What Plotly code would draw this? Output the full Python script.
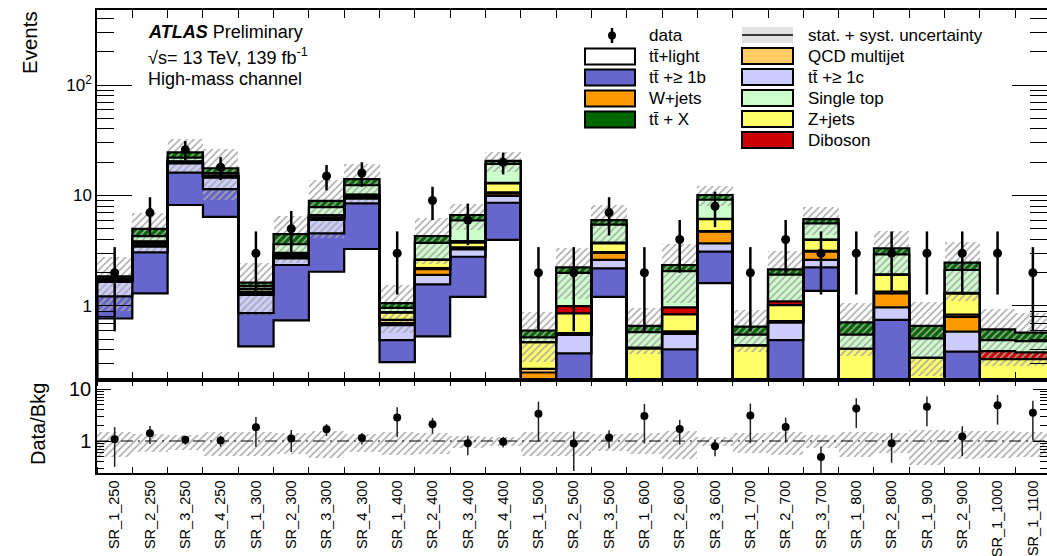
import numpy as np
import plotly.graph_objects as go

regions = ["SR_1_250", "SR_2_250", "SR_3_250", "SR_4_250",
           "SR_1_300", "SR_2_300", "SR_3_300", "SR_4_300",
           "SR_1_400", "SR_2_400", "SR_3_400", "SR_4_400",
           "SR_1_500", "SR_2_500", "SR_3_500",
           "SR_1_600", "SR_2_600", "SR_3_600",
           "SR_1_700", "SR_2_700", "SR_3_700",
           "SR_1_800", "SR_2_800", "SR_1_900", "SR_2_900",
           "SR_1_1000", "SR_1_1100"]

# stacked backgrounds, bottom -> top
tt_light = [0.77, 1.30, 8.2, 6.4, 0.43, 0.74, 2.04, 3.28, 0.31, 0.53, 1.21, 3.96, 0.0, 0.0, 1.21,
            0.0, 0.0, 1.61, 0.0, 0.0, 1.37, 0.0, 0.0, 0.0, 0.0, 0.0, 0.0]
tt_b = [0.45, 1.76, 7.9, 5.0, 0.43, 1.61, 2.5, 5.2, 0.18, 1.04, 1.58, 4.64, 0.0, 0.373, 0.98,
        0.0, 0.405, 1.49, 0.0, 0.49, 0.87, 0.0, 0.75, 0.0, 0.386, 0.0, 0.0]
tt_c = [0.43, 0.38, 3.4, 3.1, 0.40, 0.35, 1.46, 0.9, 0.18, 0.34, 0.47, 1.3, 0.0, 0.174, 0.42,
        0.0, 0.155, 0.59, 0.0, 0.22, 0.37, 0.0, 0.22, 0.0, 0.20, 0.0, 0.0]
w_jets = [0.02, 0.10, 0.2, 0.15, 0.04, 0.08, 0.15, 0.2, 0.03, 0.24, 0.05, 0.5, 0.25, 0.0, 0.42,
          0.0, 0.01, 1.01, 0.0, 0.0, 0.49, 0.0, 0.33, 0.0, 0.21, 0.0, 0.0]
qcd = [0.02, 0.12, 0.3, 0.2, 0.04, 0.10, 0.2, 0.25, 0.05, 0.05, 0.08, 0.3, 0.02, 0.02, 0.05,
       0.01, 0.02, 0.05, 0.01, 0.02, 0.05, 0.01, 0.05, 0.01, 0.04, 0.01, 0.01]
z_jets = [0.03, 0.15, 0.3, 0.25, 0.08, 0.12, 0.25, 0.3, 0.12, 0.41, 0.35, 2.2, 0.2, 0.29, 0.61,
          0.40, 0.25, 1.35, 0.43, 0.29, 0.81, 0.40, 0.56, 0.33, 0.46, 0.32, 0.32]
diboson = [0.01, 0.03, 0.1, 0.05, 0.01, 0.02, 0.05, 0.05, 0.01, 0.02, 0.12, 0.1, 0.0, 0.14, 0.05,
           0.01, 0.13, 0.05, 0.0, 0.08, 0.03, 0.0, 0.02, 0.0, 0.02, 0.06, 0.05]
single_top = [0.05, 0.45, 1.6, 0.8, 0.08, 0.6, 1.2, 2.2, 0.08, 1.1, 2.1, 6.3, 0.05, 1.0, 1.7,
              0.16, 1.1, 3.0, 0.11, 0.82, 1.6, 0.14, 1.0, 0.17, 0.8, 0.10, 0.10]
tt_x = [0.07, 0.70, 2.6, 1.7, 0.12, 0.85, 1.1, 1.7, 0.10, 0.57, 0.7, 1.3, 0.08, 0.24, 0.55,
        0.08, 0.28, 0.95, 0.10, 0.22, 0.51, 0.16, 0.40, 0.15, 0.35, 0.125, 0.095]

# total background uncertainty (absolute)
bkg_unc = [0.94, 1.9, 8.2, 8.6, 0.8, 2.0, 4.8, 5.4, 0.49, 1.9, 1.8, 4.3, 0.29, 1.09, 2.2,
           0.29, 1.29, 2.1, 0.27, 1.0, 1.7, 0.36, 1.4, 0.43, 1.35, 0.33, 0.29]

data = [2, 7, 26, 18, 3, 5, 15, 16, 3, 9, 6, 20, 2, 2, 7, 2, 4, 8, 2, 4, 3, 3, 3, 3, 3, 3, 2]
data_err = [1.41, 2.65, 5.10, 4.24, 1.73, 2.24, 3.87, 4.00, 1.73, 3.00, 2.45, 4.47, 1.41, 1.41, 2.65,
            1.41, 2.00, 2.83, 1.41, 2.00, 1.73, 1.73, 1.73, 1.73, 1.73, 1.73, 1.41]

comp_names = ["tt\u0304+light", "tt\u0304 +\u2265 1b", "tt\u0304 +\u2265 1c", "W+jets", "QCD multijet",
              "Z+jets", "Diboson", "Single top", "tt\u0304 + X"]
comp_vals = [tt_light, tt_b, tt_c, w_jets, qcd, z_jets, diboson, single_top, tt_x]
comp_cols = ["#ffffff", "#6666cc", "#ccccff", "#ff9900", "#ffcc66", "#ffff66", "#cc0000", "#ccffcc", "#006600"]

# legend layout (component indices per column)
legend_col1 = [0, 1, 3, 8]
legend_col2 = [4, 2, 7, 5, 6]

FONT = "Liberation Sans, Arial, Helvetica, sans-serif"
n = len(regions)
xc = np.arange(n) + 0.5
cum = np.cumsum(np.array(comp_vals, dtype=float), axis=0)
total = cum[-1]
unc = np.array(bkg_unc)
d = np.array(data, dtype=float)
de = np.array(data_err)

Y_MAIN = [-0.670, 2.679]
Y_RAT = [-0.615, 1.173]
floor = 10 ** (Y_MAIN[0] - 1)

fig = go.Figure()

# stacked histogram drawn as overlaid cumulative bars (top-most first)
for k in reversed(range(len(comp_vals))):
    fig.add_trace(go.Bar(x=xc, y=cum[k], width=1.0, marker=dict(color=comp_cols[k], line=dict(width=0)),
                         name=comp_names[k], showlegend=False, hoverinfo="skip", xaxis="x", yaxis="y"))

hatch = dict(shape="/", fgcolor="#a8a8a8", bgcolor="rgba(0,0,0,0)", size=5, solidity=0.3, fillmode="replace")

# uncertainty band (main panel)
fig.add_trace(go.Bar(x=xc, y=2 * unc, base=total - unc, width=1.0,
                     marker=dict(color="rgba(0,0,0,0)", line=dict(width=0), pattern=hatch),
                     name="stat. + syst. uncertainty", showlegend=False,
                     hoverinfo="skip", xaxis="x", yaxis="y"))

# step outlines of each stacked component
xs = np.concatenate([[0], np.arange(n + 1), [n]])
for k in range(len(comp_vals)):
    c = np.maximum(cum[k], floor)
    ys = np.concatenate([[floor], c, [c[-1]], [floor]])
    fig.add_trace(go.Scatter(x=xs, y=ys, mode="lines", line=dict(color="black", width=2.2, shape="hv"),
                             showlegend=False, hoverinfo="skip", xaxis="x", yaxis="y"))

# data
fig.add_trace(go.Scatter(x=xc, y=d, mode="markers", name="data", showlegend=False,
                         marker=dict(color="black", size=9),
                         error_y=dict(type="data", array=de, color="black", thickness=2.5, width=0),
                         xaxis="x", yaxis="y"))

# ratio panel
ratio = d / total
ratio_err = de / total
rel = unc / total
fig.add_trace(go.Bar(x=xc, y=2 * rel, base=1 - rel, width=1.0,
                     marker=dict(color="rgba(0,0,0,0)", line=dict(width=0), pattern=hatch),
                     showlegend=False, hoverinfo="skip", xaxis="x2", yaxis="y2"))
fig.add_trace(go.Scatter(x=[0, n], y=[1, 1], mode="lines",
                         line=dict(color="black", width=1, dash="12px,5px,2px,5px"),
                         showlegend=False, hoverinfo="skip", xaxis="x2", yaxis="y2"))
fig.add_trace(go.Scatter(x=xc, y=ratio, mode="markers", showlegend=False,
                         marker=dict(color="black", size=8),
                         error_y=dict(type="data", array=ratio_err, color="#222222", thickness=1.5, width=0),
                         xaxis="x2", yaxis="y2"))

W, H = 1047, 556
XDOM = [97 / W, 1.0]
MAIN_DOM = [(H - 380) / H, (H - 10) / H]
RAT_DOM = [(H - 473) / H, (H - 380) / H]
XR = [0, 26.9]

minor_main = [0.3, 0.4, 0.5, 0.6, 0.7, 0.8, 0.9, 2, 3, 4, 5, 6, 7, 8, 9,
              20, 30, 40, 50, 60, 70, 80, 90, 200, 300, 400]
minor_rat = [0.3, 0.4, 0.5, 0.6, 0.7, 0.8, 0.9, 2, 3, 4, 5, 6, 7, 8, 9]

axis_common = dict(showline=True, linecolor="black", linewidth=1.5, mirror="ticks", showgrid=False,
                   zeroline=False, tickcolor="black", automargin=False)

fig.update_layout(
    width=W, height=H, margin=dict(l=0, r=0, t=0, b=0, pad=0, autoexpand=False),
    paper_bgcolor="white", plot_bgcolor="white",
    barmode="overlay", bargap=0, showlegend=False,
    font=dict(family=FONT, color="black"),
    xaxis=dict(domain=XDOM, range=XR, anchor="y", tickmode="linear", tick0=0, dtick=1,
               ticks="inside", ticklen=8, tickwidth=1.2, showticklabels=False, **axis_common),
    yaxis=dict(domain=MAIN_DOM, type="log", range=Y_MAIN, anchor="x",
               tickvals=[1, 10, 100], ticktext=["1", "10", "10<sup>2</sup>"],
               ticks="inside", ticklen=35, tickwidth=1.2,
               tickfont=dict(family=FONT, color="black", size=17),
               minor=dict(tickvals=minor_main, ticks="inside", ticklen=17, tickcolor="black", tickwidth=1.2),
               **axis_common),
    xaxis2=dict(domain=XDOM, range=XR, anchor="y2", tickvals=list(xc), ticktext=regions,
                tickangle=-90, ticks="", ticklen=0,
                tickfont=dict(family=FONT, color="black", size=14.5),
                minor=dict(tick0=0, dtick=1, ticks="inside", ticklen=6, tickcolor="black", tickwidth=1.2),
                **axis_common),
    yaxis2=dict(domain=RAT_DOM, type="log", range=Y_RAT, anchor="x2",
                tickvals=[1, 10], ticktext=["1", "10"], ticks="inside", ticklen=14, tickwidth=1.2,
                tickfont=dict(family=FONT, color="black", size=20),
                minor=dict(tickvals=minor_rat, ticks="inside", ticklen=7, tickcolor="black", tickwidth=1.2),
                **axis_common),
)


def px(xp):
    return xp / W


def py(yp):
    return (H - yp) / H


def text(s, x, y, size, angle=0, xanchor="left"):
    fig.add_annotation(text=s, x=px(x), y=py(y), xref="paper", yref="paper", textangle=angle,
                       xanchor=xanchor, yanchor="middle", showarrow=False, borderpad=0,
                       font=dict(family=FONT, size=size, color="black"))


# labels
text("<b><i>ATLAS</i></b> Preliminary", 147, 32, 18)
text("\u221as= 13 TeV, 139 fb<sup>-1</sup>", 147, 56, 18)
text("High-mass channel", 147, 79, 18)
text("Events", 30, 43, 20.5, angle=-90, xanchor="center")
text("Data/Bkg", 38, 424, 20, angle=-90, xanchor="center")

# legend (drawn as boxes + text)
ROW = 21
BOX_H = 16
c1_box, c1_txt, c1_y0 = (585, 635), 648, 35.5
c2_box, c2_txt, c2_y0 = (742, 793), 807, 35.0
LEG_FS = 17

# data entry
fig.add_shape(type="line", xref="paper", yref="paper", x0=px(612), x1=px(612), y0=py(28), y1=py(43),
              line=dict(color="black", width=2.5))
fig.add_shape(type="circle", xref="paper", yref="paper", x0=px(608), x1=px(616), y0=py(39.5), y1=py(31.5),
              fillcolor="black", line=dict(color="black", width=0))
text("data", c1_txt, c1_y0, LEG_FS)
for r, k in enumerate(legend_col1):
    yc = c1_y0 + ROW * (r + 1)
    fig.add_shape(type="rect", xref="paper", yref="paper", x0=px(c1_box[0]), x1=px(c1_box[1]),
                  y0=py(yc - BOX_H / 2), y1=py(yc + BOX_H / 2), fillcolor=comp_cols[k],
                  line=dict(color="black", width=2))
    text(comp_names[k], c1_txt, yc, LEG_FS)

# uncertainty entry
fig.add_shape(type="rect", xref="paper", yref="paper", x0=px(c2_box[0]), x1=px(c2_box[1]),
              y0=py(c2_y0 - BOX_H / 2), y1=py(c2_y0 + BOX_H / 2), fillcolor="#e2e2e2",
              line=dict(width=0))
fig.add_shape(type="line", xref="paper", yref="paper", x0=px(c2_box[0]), x1=px(c2_box[1]),
              y0=py(c2_y0), y1=py(c2_y0), line=dict(color="black", width=1.5))
text("stat. + syst. uncertainty", c2_txt, c2_y0, LEG_FS)
for r, k in enumerate(legend_col2):
    yc = c2_y0 + ROW * (r + 1)
    fig.add_shape(type="rect", xref="paper", yref="paper", x0=px(c2_box[0]), x1=px(c2_box[1]),
                  y0=py(yc - BOX_H / 2), y1=py(yc + BOX_H / 2), fillcolor=comp_cols[k],
                  line=dict(color="black", width=2))
    text(comp_names[k], c2_txt, yc, LEG_FS)

fig.write_html("out.html", config={"displayModeBar": False},
               post_script="document.body.style.margin='0px';document.body.style.overflow='hidden';")
